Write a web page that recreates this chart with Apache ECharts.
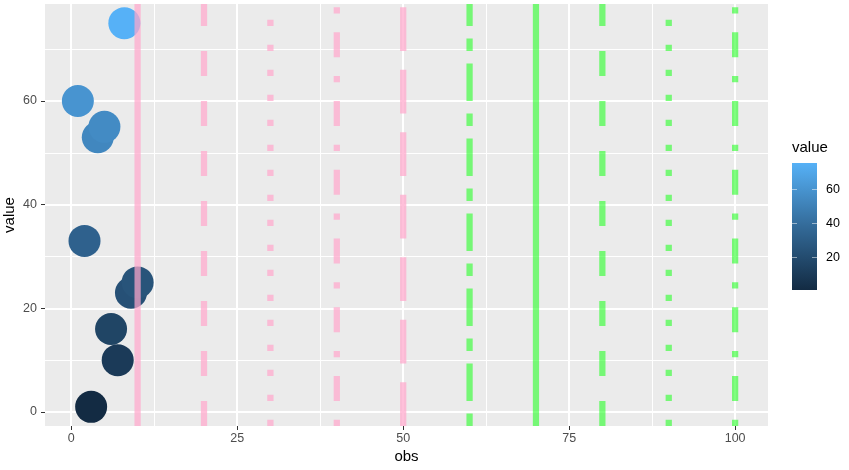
<!DOCTYPE html>
<html>
<head>
<meta charset="utf-8">
<script src="https://cdn.jsdelivr.net/npm/echarts@6/dist/echarts.min.js"></script>
<style>
html,body{margin:0;padding:0;background:#fff;}
#c{width:849px;height:470px;}
</style>
</head>
<body>
<div id="c"></div>
<script>
// ---- data ----
var obs = [1, 2, 3, 4, 5, 6, 7, 8, 9, 10];
var values = [60, 33, 1, 53, 55, 16, 10, 75, 23, 25];
var vlineX = [10, 20, 30, 40, 50, 60, 70, 80, 90, 100];
var vlineTypes = ['solid', 'dashed', 'dotted', 'dotdash', 'longdash', 'twodash', 'solid', 'dashed', 'dotted', 'dotdash'];
var vlineGroup = ['pink', 'pink', 'pink', 'pink', 'pink', 'green', 'green', 'green', 'green', 'green'];
var xTicks = [0, 25, 50, 75, 100];
var xMinor = [12.5, 37.5, 62.5, 87.5];
var yTicks = [0, 20, 40, 60];
var yMinor = [10, 30, 50, 70];
var legendTicks = [20, 40, 60];

// ---- styling ----
var lwd = 6.25;
var dashCodes = { solid: null, dashed: '44', dotted: '13', dotdash: '1343', longdash: '73', twodash: '2262' };
function dashArray(t) {
  var code = dashCodes[t];
  if (!code) return 'solid';
  return code.split('').map(function (d) { return parseInt(d, 16) * lwd; });
}
var groupColors = { pink: 'rgba(255,168,204,0.72)', green: 'rgba(40,255,40,0.6)' };
var lowCol = '#132B43', midCol = '#336A98', highCol = '#56B1F7';
var fontFam = '"Liberation Sans", Arial, sans-serif';

var vMin = Math.min.apply(null, values), vMax = Math.max.apply(null, values);
var xMinD = Math.min(Math.min.apply(null, obs), Math.min.apply(null, vlineX));
var xMaxD = Math.max(Math.max.apply(null, obs), Math.max.apply(null, vlineX));
var xPad = (xMaxD - xMinD) * 0.05, yPad = (vMax - vMin) * 0.05;
var xMin = xMinD - xPad, xMax = xMaxD + xPad;
var yMin = vMin - yPad, yMax = vMax + yPad;

var series = [];
// gridlines
series.push({
  type: 'line', data: [], z: 1, silent: true,
  markLine: {
    z: 1, silent: true, symbol: ['none', 'none'], animation: false, label: { show: false },
    data: []
      .concat(xMinor.map(function (v) { return { xAxis: v, lineStyle: { color: '#fff', width: 1, type: 'solid' } }; }))
      .concat(yMinor.map(function (v) { return { yAxis: v, lineStyle: { color: '#fff', width: 1, type: 'solid' } }; }))
      .concat(xTicks.map(function (v) { return { xAxis: v, lineStyle: { color: '#fff', width: 2, type: 'solid' } }; }))
      .concat(yTicks.map(function (v) { return { yAxis: v, lineStyle: { color: '#fff', width: 2, type: 'solid' } }; }))
  }
});
// points
series.push({
  type: 'scatter', z: 2, symbolSize: 32, animation: false,
  data: obs.map(function (o, i) { return [o, values[i]]; }),
  itemStyle: { opacity: 1 }
});
// vlines
vlineX.forEach(function (x, i) {
  series.push({
    type: 'line', z: 3, silent: true, animation: false, showSymbol: false, symbol: 'none',
    data: [[x, yMin], [x, yMax]],
    lineStyle: { width: lwd, color: groupColors[vlineGroup[i]], type: dashArray(vlineTypes[i]), dashOffset: 0, cap: 'butt' }
  });
});

// legend colour bar
var bar = { x: 792, y: 163, w: 25, h: 127 };
function barY(v) { return bar.y + bar.h - (v - vMin) / (vMax - vMin) * bar.h; }
var graphics = [
  { type: 'text', left: 792, top: 140, style: { text: 'value', font: '15px ' + fontFam, fill: '#000' } },
  { type: 'rect', shape: { x: bar.x, y: bar.y, width: bar.w, height: bar.h },
    style: { fill: new echarts.graphic.LinearGradient(0, 1, 0, 0, [
      { offset: 0, color: lowCol }, { offset: 0.5, color: midCol }, { offset: 1, color: highCol }]) } }
];
legendTicks.forEach(function (v) {
  var y = Math.round(barY(v)) + 0.5;
  graphics.push({ type: 'line', shape: { x1: bar.x, y1: y, x2: bar.x + 5, y2: y }, style: { stroke: 'rgba(255,255,255,0.5)', lineWidth: 1 } });
  graphics.push({ type: 'line', shape: { x1: bar.x + bar.w - 5, y1: y, x2: bar.x + bar.w, y2: y }, style: { stroke: 'rgba(255,255,255,0.5)', lineWidth: 1 } });
  graphics.push({ type: 'text', x: 826, y: y, style: { text: String(v), font: '12.5px ' + fontFam, fill: '#000', textVerticalAlign: 'middle', verticalAlign: 'middle' } });
});

var chart = echarts.init(document.getElementById('c'), null, { renderer: 'canvas' });
chart.setOption({
  animation: false,
  backgroundColor: '#fff',
  grid: { left: 45, top: 4, width: 723, height: 422, show: true, backgroundColor: '#EBEBEB', borderWidth: 0, containLabel: false, outerBoundsMode: 'none' },
  visualMap: { show: false, type: 'continuous', seriesIndex: 1, dimension: 1, min: vMin, max: vMax, inRange: { color: [lowCol, midCol, highCol] } },
  xAxis: {
    type: 'value', min: xMin, max: xMax,
    name: 'obs', nameLocation: 'middle', nameGap: 23, nameMoveOverlap: false,
    nameTextStyle: { fontSize: 15, color: '#000', fontFamily: fontFam },
    axisLine: { show: true, onZero: false, lineStyle: { color: 'rgba(0,0,0,0)', width: 0 } },
    axisTick: { show: true, inside: false, customValues: xTicks, length: 4, lineStyle: { color: '#333', width: 1 } },
    axisLabel: { customValues: xTicks, margin: 6, fontSize: 12.5, color: '#4D4D4D', fontFamily: fontFam, hideOverlap: false, showMinLabel: true, showMaxLabel: true },
    splitLine: { show: false }, minorSplitLine: { show: false }
  },
  yAxis: {
    type: 'value', min: yMin, max: yMax,
    name: 'value', nameLocation: 'middle', nameGap: 28, nameMoveOverlap: false,
    nameTextStyle: { fontSize: 15, color: '#000', fontFamily: fontFam },
    axisLine: { show: true, onZero: false, lineStyle: { color: 'rgba(0,0,0,0)', width: 0 } },
    axisTick: { show: true, inside: false, customValues: yTicks, length: 4, lineStyle: { color: '#333', width: 1 } },
    axisLabel: { customValues: yTicks, margin: 8, fontSize: 12.5, color: '#4D4D4D', fontFamily: fontFam, hideOverlap: false },
    splitLine: { show: false }, minorSplitLine: { show: false }
  },
  series: series,
  graphic: graphics
});
</script>
</body>
</html>
